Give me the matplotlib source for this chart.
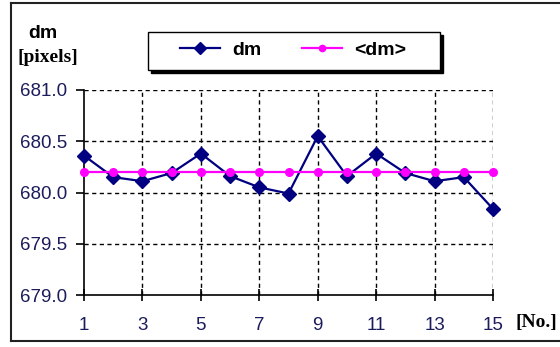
import matplotlib
matplotlib.use("Agg")
import matplotlib.pyplot as plt
from matplotlib.lines import Line2D
from matplotlib.patches import Rectangle

x_no = [1, 2, 3, 4, 5, 6, 7, 8, 9, 10, 11, 12, 13, 14, 15]
dm = [680.36, 680.15, 680.11, 680.19, 680.38, 680.16, 680.05, 679.99,
      680.55, 680.16, 680.38, 680.19, 680.11, 680.15, 679.84]
dm_mean = [680.20] * 15
x_ticks = [1, 3, 5, 7, 9, 11, 13, 15]
y_ticks = [679.0, 679.5, 680.0, 680.5, 681.0]

W, H = 560, 347
fig = plt.figure(figsize=(W / 100, H / 100), dpi=100)
fig.patch.set_facecolor("white")

def fx(px):
    return px / W

def fy(py):
    return 1 - py / H

NAVY = "#000080"
MAGENTA = "#ff00ff"

ax = fig.add_axes([fx(84), fy(295), fx(493) - fx(84), fy(90) - fy(295)])
ax.set_xlim(1, 15)
ax.set_ylim(679.0, 681.0)
ax.set_xticks(x_ticks)
ax.set_yticks(y_ticks)
ax.set_yticklabels([f"{v:.1f}" for v in y_ticks])

for s in ["top", "right"]:
    ax.spines[s].set_visible(False)
for s in ["left", "bottom"]:
    ax.spines[s].set_linewidth(1.2)
    ax.spines[s].set_color("black")
    ax.spines[s].set_zorder(2.5)

ax.grid(True, color="black", linestyle=(0, (3, 2.5)), linewidth=1.0)
ax.set_axisbelow(True)
ax.xaxis.get_major_ticks()[0].gridline.set_visible(False)
ax.yaxis.get_major_ticks()[0].gridline.set_visible(False)

tick_color = "#1c1c5c"
ax.tick_params(axis="y", direction="out", length=6, width=1.2, pad=6,
               labelsize=13.5, labelcolor=tick_color)
ax.tick_params(axis="x", direction="inout", length=9, width=1.2, pad=11,
               labelsize=13.5, labelcolor=tick_color)
for lab in ax.get_xticklabels() + ax.get_yticklabels():
    lab.set_fontfamily("Liberation Sans")

ax.plot(x_no, dm, color=NAVY, linewidth=1.6, marker="D",
        markersize=7.5, zorder=3, clip_on=False)
ax.plot(x_no, dm_mean, color=MAGENTA, linewidth=1.6, marker="o",
        markersize=5.5, zorder=4, clip_on=False)

# legend box with shadow
bx0, by0, bx1, by1 = 148, 32, 440, 70
shadow = Rectangle((fx(bx0 + 3), fy(by1 + 3)), fx(bx1) - fx(bx0), fy(by0) - fy(by1),
                   transform=fig.transFigure, facecolor="black", edgecolor="black",
                   zorder=5)
box = Rectangle((fx(bx0), fy(by1)), fx(bx1) - fx(bx0), fy(by0) - fy(by1),
                transform=fig.transFigure, facecolor="white", edgecolor="black",
                linewidth=1.0, zorder=6)
fig.add_artist(shadow)
fig.add_artist(box)
h1 = Line2D([], [], color=NAVY, linewidth=1.6, marker="D", markersize=6)
h2 = Line2D([], [], color=MAGENTA, linewidth=1.6, marker="o", markersize=4.5)
leg = fig.legend(handles=[h1, h2], labels=["dm", "<dm>"], loc="center", ncol=2,
                 frameon=False,
                 bbox_to_anchor=(fx(293), fy(50)),
                 prop={"family": "Liberation Sans", "size": 14, "weight": "bold"},
                 handlelength=2.06, handletextpad=0.62, columnspacing=2.06)
leg.set_zorder(7)

# axis labels
fig.text(fx(43), fy(33), "dm", ha="center", va="center", fontsize=14,
         fontweight="bold", family="Liberation Sans")
fig.text(fx(48), fy(57), "[pixels]", ha="center", va="center", fontsize=14,
         fontweight="bold", family="Liberation Serif")
fig.text(fx(536), fy(322), "[No.]", ha="center", va="center", fontsize=14,
         fontweight="bold", family="Liberation Serif")

# outer frame
frame_kw = dict(transform=fig.transFigure, color="#222222", linewidth=1.5)
fig.add_artist(Line2D([fx(11), 1], [fy(2.5), fy(2.5)], **frame_kw))
fig.add_artist(Line2D([fx(11), fx(11)], [fy(2.5), fy(341)], **frame_kw))
fig.add_artist(Line2D([fx(11), 1], [fy(341), fy(341)], **frame_kw))

fig.savefig("out.png", dpi=100, facecolor="white")
